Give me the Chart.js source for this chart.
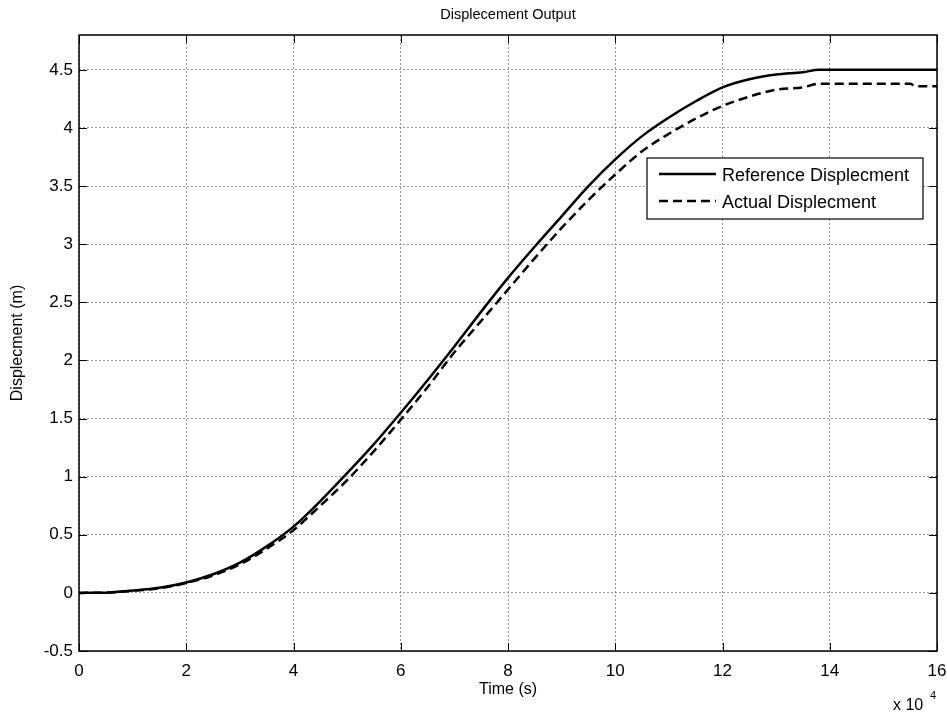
<!DOCTYPE html>
<html>
<head>
<meta charset="utf-8">
<script src="https://cdn.jsdelivr.net/npm/chart.js@4/dist/chart.umd.min.js"></script>
<style>
  html, body { margin: 0; padding: 0; background: #fff; }
  #wrap { width: 947px; height: 714px; }
</style>
</head>
<body>
<div id="wrap"><canvas id="chart" width="947" height="714"></canvas></div>
<script>
// time in units of 10^4 s
const timeValues = [0, 0.5, 1, 1.5, 2, 2.5, 3, 3.5, 4, 4.5, 5, 5.5, 6, 6.5, 7, 7.5, 8, 8.5, 9, 9.5,
    10, 10.5, 11, 11.5, 12, 12.5, 13, 13.5, 13.8, 14, 15, 15.5, 15.6, 16];
const referenceValues = [0, 0.002, 0.02, 0.045, 0.09, 0.16, 0.26, 0.4, 0.57, 0.79, 1.03, 1.28, 1.55, 1.83, 2.12, 2.42, 2.71, 2.98, 3.24, 3.5,
    3.73, 3.93, 4.09, 4.23, 4.35, 4.42, 4.46, 4.48, 4.5, 4.5, 4.5, 4.5, 4.5, 4.5];
const actualValues = [0, 0.002, 0.018, 0.04, 0.085, 0.15, 0.245, 0.38, 0.54, 0.75, 0.97, 1.22, 1.49, 1.77, 2.07, 2.34, 2.61, 2.88, 3.14, 3.38,
    3.6, 3.8, 3.95, 4.08, 4.19, 4.27, 4.33, 4.35, 4.38, 4.38, 4.38, 4.38, 4.36, 4.36];
const xTicks = [0, 2, 4, 6, 8, 10, 12, 14, 16];
const yTicks = [-0.5, 0, 0.5, 1, 1.5, 2, 2.5, 3, 3.5, 4, 4.5];
const seriesNames = ["Reference Displecment", "Actual Displecment"];

const FONT = "Arial, 'Liberation Sans', sans-serif";

function toPoints(ys) {
    return timeValues.map((t, i) => ({ x: t, y: ys[i] }));
}

// box, inward tick marks, legend and the exponent label
const matlabAxes = {
    id: "matlabAxes",
    afterDraw(chart) {
        const ctx = chart.ctx;
        const a = chart.chartArea;
        const xs = chart.scales.x, ys = chart.scales.y;
        const tl = 8;
        ctx.save();
        ctx.strokeStyle = "#000";
        ctx.lineWidth = 1;
        ctx.beginPath();
        xTicks.forEach(v => {
            const px = Math.round(xs.getPixelForValue(v)) + 0.5;
            ctx.moveTo(px, a.bottom); ctx.lineTo(px, a.bottom - tl);
            ctx.moveTo(px, a.top); ctx.lineTo(px, a.top + tl);
        });
        yTicks.forEach(v => {
            const py = Math.round(ys.getPixelForValue(v)) + 0.5;
            ctx.moveTo(a.left, py); ctx.lineTo(a.left + tl, py);
            ctx.moveTo(a.right, py); ctx.lineTo(a.right - tl, py);
        });
        ctx.stroke();
        ctx.lineWidth = 1.5;
        ctx.strokeRect(a.left, a.top, a.right - a.left, a.bottom - a.top);

        // legend
        const lx = 647, ly = 158, lw = 276, lh = 61;
        ctx.fillStyle = "#fff";
        ctx.fillRect(lx, ly, lw, lh);
        ctx.lineWidth = 1.2;
        ctx.strokeRect(lx, ly, lw, lh);
        ctx.font = "18px " + FONT;
        ctx.textBaseline = "middle";
        ctx.textAlign = "left";
        chart.data.datasets.forEach((ds, i) => {
            const cy = ly + 16 + i * 27;
            ctx.beginPath();
            ctx.lineWidth = ds.borderWidth;
            ctx.setLineDash(ds.borderDash || []);
            ctx.moveTo(lx + 12, cy);
            ctx.lineTo(lx + 69, cy);
            ctx.stroke();
            ctx.setLineDash([]);
            ctx.fillStyle = "#000";
            ctx.fillText(ds.label, lx + 75, cy + 2);
        });

        // exponent
        ctx.font = "16px " + FONT;
        ctx.textBaseline = "alphabetic";
        ctx.fillText("x 10", 893, 710);
        ctx.font = "11px " + FONT;
        ctx.fillText("4", 930, 699);
        ctx.restore();
    }
};

new Chart(document.getElementById("chart"), {
    type: "line",
    data: {
        datasets: [
            {
                label: seriesNames[0],
                data: toPoints(referenceValues),
                borderColor: "#000",
                borderWidth: 2.5,
                pointRadius: 0,
                cubicInterpolationMode: "monotone",
                fill: false
            },
            {
                label: seriesNames[1],
                data: toPoints(actualValues),
                borderColor: "#000",
                borderWidth: 2.5,
                borderDash: [9, 5],
                pointRadius: 0,
                cubicInterpolationMode: "monotone",
                fill: false
            }
        ]
    },
    options: {
        responsive: false,
        animation: false,
        events: [],
        layout: { autoPadding: false, padding: { left: 0, right: 10, top: 0, bottom: 0 } },
        plugins: {
            legend: { display: false },
            tooltip: { enabled: false },
            title: {
                display: true,
                text: "Displecement Output",
                fullSize: false,
                color: "#000",
                font: { family: FONT, size: 14.5, weight: "normal", lineHeight: 1.2 },
                padding: { top: 6, bottom: 11.6 }
            }
        },
        scales: {
            x: {
                type: "linear",
                min: 0,
                max: 16,
                afterBuildTicks: s => { s.ticks = xTicks.map(v => ({ value: v })); },
                afterFit: s => { s.height = 63; s.paddingLeft = 0; s.paddingRight = 0; },
                ticks: { color: "#000", font: { family: FONT, size: 17 }, padding: 10, maxRotation: 0,
                         callback: v => String(v) },
                grid: { color: "#959595", lineWidth: 1, drawTicks: false },
                border: { display: false, dash: [2, 2] },
                title: {
                    display: true,
                    text: "Time (s)",
                    color: "#000",
                    font: { family: FONT, size: 16, lineHeight: 1.2 },
                    padding: { top: 0, bottom: 15 }
                }
            },
            y: {
                type: "linear",
                min: -0.5,
                max: 4.8,
                afterBuildTicks: s => { s.ticks = yTicks.map(v => ({ value: v })); },
                afterFit: s => { s.width = 79; s.paddingTop = 0; s.paddingBottom = 0; },
                ticks: { color: "#000", font: { family: FONT, size: 17 }, padding: 6,
                         callback: v => String(v) },
                grid: { color: "#959595", lineWidth: 1, drawTicks: false },
                border: { display: false, dash: [2, 2] },
                title: {
                    display: true,
                    text: "Displecment (m)",
                    color: "#000",
                    font: { family: FONT, size: 16, lineHeight: 1.2 },
                    padding: { top: 8, bottom: 0 }
                }
            }
        }
    },
    plugins: [matlabAxes]
});
</script>
</body>
</html>
